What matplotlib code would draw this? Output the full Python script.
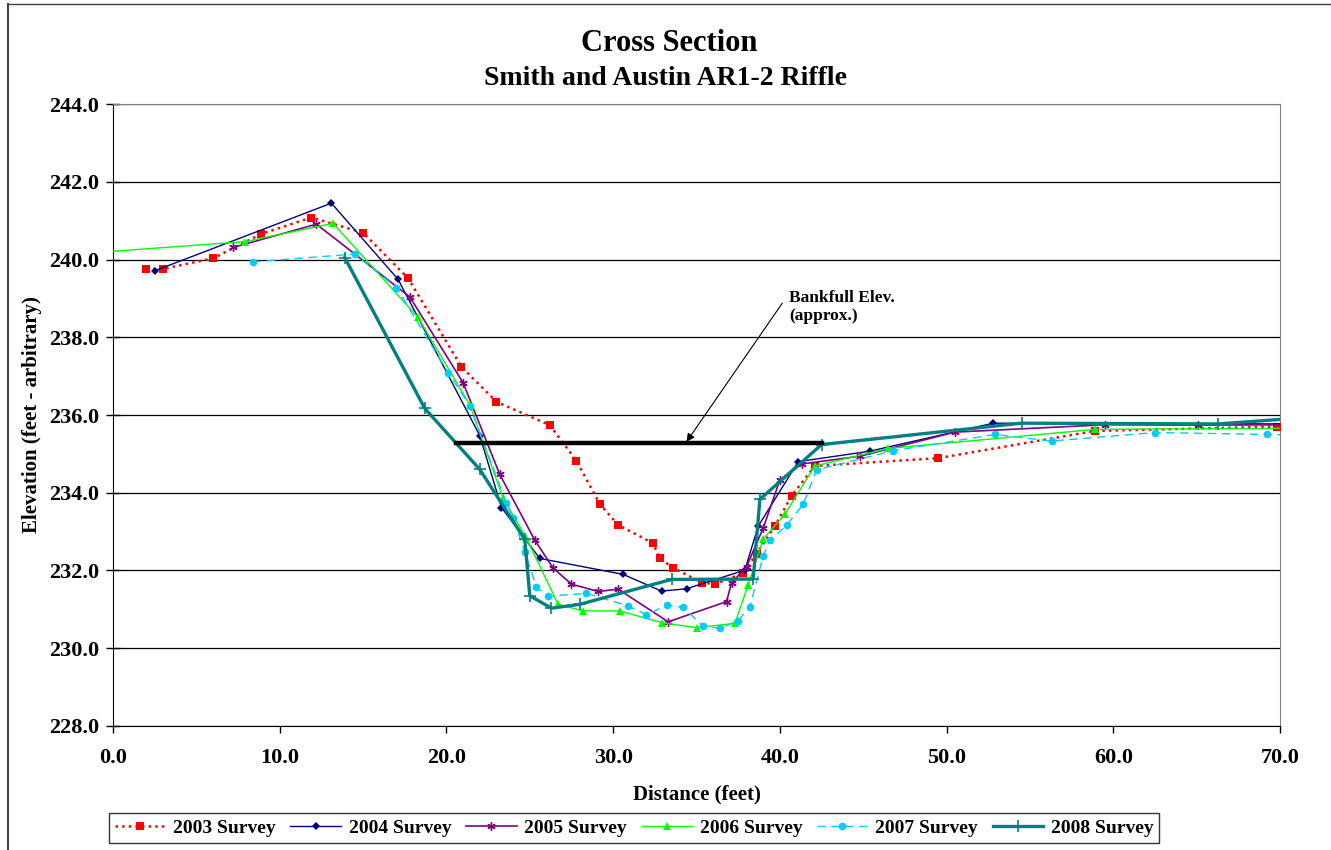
import matplotlib
matplotlib.use("Agg")
import matplotlib.pyplot as plt
from matplotlib.lines import Line2D

plt.rcParams['font.family'] = ['Liberation Serif', 'DejaVu Serif']
plt.rcParams['font.weight'] = 'bold'

# Survey data: distance (feet) and elevation (feet - arbitrary)
x2003 = [2.0, 3.0, 6.0, 8.9, 11.9, 15.0, 17.7, 20.9, 23.0, 26.2, 27.8, 29.2, 30.3,
         32.4, 32.8, 33.6, 35.3, 36.1, 37.8, 38.6, 39.7, 40.7, 42.1, 49.5, 58.9, 69.8]
y2003 = [239.75, 239.76, 240.03, 240.66, 241.08, 240.69, 239.52, 237.24, 236.34, 235.74,
         234.82, 233.71, 233.17, 232.70, 232.31, 232.07, 231.69, 231.65, 231.93, 232.43,
         233.14, 233.92, 234.69, 234.89, 235.59, 235.70]

x2004 = [2.5, 13.1, 17.1, 22.0, 23.3, 25.6, 30.6, 32.9, 34.4, 37.9, 38.7, 41.1, 45.4,
         52.8, 71.0]
y2004 = [239.71, 241.45, 239.49, 235.47, 233.62, 232.31, 231.90, 231.47, 231.53, 232.01,
         233.14, 234.80, 235.07, 235.79, 235.77]

x2005 = [7.2, 12.2, 17.8, 21.0, 23.2, 25.3, 26.4, 27.5, 29.1, 30.3, 33.3, 36.8, 37.1,
         38.0, 39.0, 40.0, 41.3, 44.8, 50.5, 59.5, 65.1, 71.0]
y2005 = [240.31, 240.91, 239.04, 236.83, 234.47, 232.78, 232.06, 231.65, 231.46, 231.52,
         230.68, 231.20, 231.68, 232.10, 233.09, 234.33, 234.74, 234.94, 235.56, 235.75,
         235.74, 235.75]

x2006 = [-2.0, 7.9, 13.2, 18.3, 21.4, 23.4, 24.8, 26.7, 28.2, 30.4, 32.9, 35.0, 37.3,
         38.1, 39.0, 40.3, 42.1, 46.5, 58.9, 71.0]
y2006 = [240.15, 240.46, 240.93, 238.51, 236.26, 233.86, 232.83, 231.13, 230.96, 230.96,
         230.66, 230.53, 230.64, 231.63, 232.81, 233.45, 234.69, 235.14, 235.63, 235.66]

x2007 = [8.4, 14.5, 17.0, 20.1, 21.4, 23.6, 24.0, 24.7, 25.4, 26.1, 28.4, 30.9, 32.0,
         33.2, 34.2, 35.4, 36.4, 37.5, 38.2, 39.0, 39.4, 40.4, 41.4, 42.2, 46.8, 52.9,
         56.3, 62.5, 69.2, 71.0]
y2007 = [239.94, 240.14, 239.28, 237.09, 236.24, 233.73, 233.36, 232.48, 231.58, 231.34,
         231.41, 231.09, 230.86, 231.11, 231.05, 230.57, 230.51, 230.71, 231.07, 232.37,
         232.78, 233.16, 233.70, 234.59, 235.08, 235.50, 235.33, 235.55, 235.50, 235.49]

x2008 = [13.9, 18.7, 22.0, 24.7, 25.0, 26.3, 28.0, 33.5, 38.4, 38.8, 42.5, 54.5, 66.3, 72.0]
y2008 = [240.05, 236.17, 234.60, 232.80, 231.35, 231.03, 231.13, 231.77, 231.78, 233.83,
         235.24, 235.79, 235.77, 235.95]

bankfull_x = [20.6, 42.5]
bankfull_elev = 235.27

fig = plt.figure(figsize=(13.31, 8.5), dpi=100)
ax = fig.add_axes([0.0849, 0.1459, 0.8768, 0.7317])

ax.plot(x2003, y2003, color='#FF0000', linestyle=':', linewidth=1.8, marker='s',
        markersize=5.5, markeredgewidth=0, label='2003 Survey', zorder=3)
ax.plot(x2004, y2004, color='#000080', linestyle='-', linewidth=1.0, marker='D',
        markersize=4.5, markeredgewidth=0, label='2004 Survey', zorder=3)
ax.plot(x2005, y2005, color='#800080', linestyle='-', linewidth=1.2, marker=(6, 2, 0),
        markersize=6, markeredgewidth=1.0, label='2005 Survey', zorder=3)
ax.plot(x2006, y2006, color='#00FF00', linestyle='-', linewidth=1.0, marker='^',
        markersize=5.5, markeredgewidth=0, label='2006 Survey', zorder=3)
ax.plot(x2007, y2007, color='#00CCFF', linestyle=(0, (6, 4)), linewidth=1.0, marker='o',
        markersize=5.5, markeredgewidth=0, label='2007 Survey', zorder=3)
ax.plot(x2008, y2008, color='#008080', linestyle='-', linewidth=2.4, marker='+',
        markersize=9, markeredgewidth=1.2, label='2008 Survey', zorder=4)

# Bankfull elevation line and its label
ax.plot(bankfull_x, [bankfull_elev, bankfull_elev], color='black', linewidth=3.2, zorder=5)
ax.annotate('', xy=(34.4, 235.31), xytext=(40.15, 238.88),
            arrowprops=dict(arrowstyle='-|>', color='black', lw=0.8,
                            mutation_scale=12, shrinkA=0, shrinkB=0), zorder=6)
ax.text(40.55, 238.78, 'Bankfull Elev.\n(approx.)', fontsize=12.5, fontweight='bold',
        ha='left', va='center', linespacing=1.15)

ax.set_xlim(0, 70)
ax.set_ylim(228, 244)
ax.set_xticks(range(0, 71, 10))
ax.set_yticks(range(228, 245, 2))
ax.xaxis.set_major_formatter(matplotlib.ticker.FormatStrFormatter('%.1f'))
ax.yaxis.set_major_formatter(matplotlib.ticker.FormatStrFormatter('%.1f'))
ax.tick_params(axis='y', direction='inout', length=10, width=1, labelsize=16, pad=5)
ax.tick_params(axis='x', direction='out', length=5, width=1, labelsize=16, pad=11)
for lbl in ax.get_xticklabels() + ax.get_yticklabels():
    lbl.set_fontweight('bold')

ax.grid(axis='y', color='#000000', linewidth=0.9)
ax.set_axisbelow(True)
ax.spines['top'].set_color('#808080')
ax.spines['right'].set_color('#808080')
ax.spines['left'].set_color('black')
ax.spines['bottom'].set_color('black')

ax.set_xlabel('Distance (feet)', fontsize=15, fontweight='bold', labelpad=12)
ax.set_ylabel('Elevation (feet - arbitrary)', fontsize=15, fontweight='bold')
ax.yaxis.set_label_coords(-0.0605, 0.5)

fig.text(0.503, 0.949, 'Cross Section', fontsize=22, fontweight='bold',
         ha='center', va='center')
fig.text(0.500, 0.908, 'Smith and Austin AR1-2 Riffle', fontsize=20, fontweight='bold',
         ha='center', va='center')

leg = fig.legend(loc='center', bbox_to_anchor=(0.4765, 0.026), ncol=6, fontsize=14,
                 frameon=True, fancybox=False, edgecolor='black', handlelength=2.6,
                 columnspacing=0.75, handletextpad=0.4, borderpad=0.3)
leg.get_frame().set_linewidth(1.0)
for t in leg.get_texts():
    t.set_fontweight('bold')

# outer chart frame
fig.add_artist(Line2D([0.006, 0.006], [0.0, 0.995], transform=fig.transFigure,
                      color='#404040', linewidth=1.5))
fig.add_artist(Line2D([0.006, 1.0], [0.995, 0.995], transform=fig.transFigure,
                      color='#404040', linewidth=1.0))

fig.savefig('out.png', dpi=100)
